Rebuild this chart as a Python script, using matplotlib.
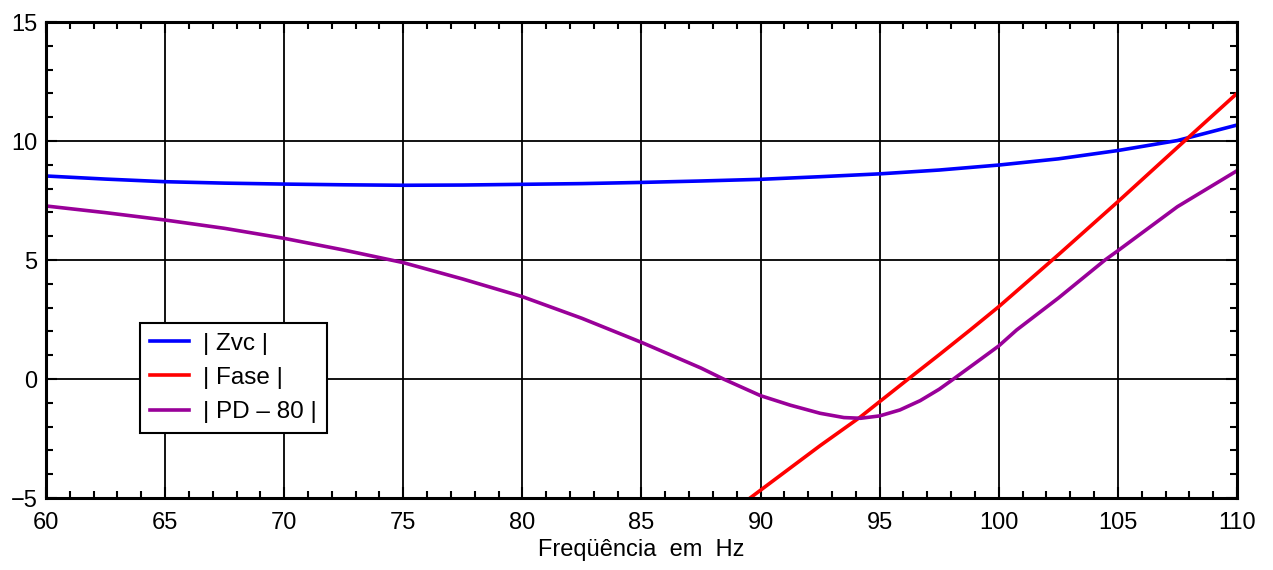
import matplotlib
matplotlib.use("Agg")
import matplotlib.pyplot as plt
from matplotlib.ticker import MultipleLocator

plt.rcParams["font.family"] = ["Liberation Sans", "DejaVu Sans"]

# |Zvc| curve
zvc_freq = [60, 62.5, 65, 67.5, 70, 72.5, 75, 77.5, 80, 82.5, 85, 87.5, 90,
            92.5, 95, 97.5, 100, 102.5, 105, 107.5, 110]
zvc_vals = [8.53, 8.40, 8.29, 8.23, 8.19, 8.16, 8.14, 8.15, 8.18, 8.21, 8.26,
            8.32, 8.39, 8.50, 8.62, 8.78, 8.99, 9.25, 9.60, 10.02, 10.67]

# |Fase| curve
fase_freq = [89.56, 90, 92.5, 94.17, 95, 96.2, 97.5, 98.8, 100, 102.5, 105,
             107.5, 110]
fase_vals = [-5.0, -4.67, -2.8, -1.61, -0.95, 0.0, 1.02, 2.06, 3.04, 5.22,
             7.45, 9.73, 12.0]

# |PD - 80| curve
pd_freq = [60, 62.5, 65, 67.5, 70, 72.5, 75, 77.5, 80, 82.5, 85, 87.5, 88.44,
           90, 91.25, 92.5, 93.5, 94.2, 95, 95.85, 96.7, 97.5, 98.1, 99.1,
           100, 100.75, 102.5, 104.46, 105, 107.5, 110]
pd_vals = [7.27, 6.99, 6.68, 6.33, 5.91, 5.42, 4.89, 4.20, 3.46, 2.55, 1.54,
           0.46, 0.0, -0.70, -1.10, -1.44, -1.62, -1.65, -1.55, -1.30, -0.91,
           -0.43, 0.0, 0.73, 1.39, 2.06, 3.40, 5.0, 5.39, 7.24, 8.75]

fig = plt.figure(figsize=(12.73, 5.70), dpi=100)
ax = fig.add_axes([0.0361, 0.1263, 0.9356, 0.8351])

ax.plot(zvc_freq, zvc_vals, color="#0000ff", lw=2.6, label="| Zvc |")
ax.plot(fase_freq, fase_vals, color="#ff0000", lw=2.6, label="| Fase |")
ax.plot(pd_freq, pd_vals, color="#990099", lw=2.6, label="| PD \u2013 80 |")

ax.set_xlim(60, 110)
ax.set_ylim(-5, 15)
ax.xaxis.set_major_locator(MultipleLocator(5))
ax.xaxis.set_minor_locator(MultipleLocator(1))
ax.yaxis.set_minor_locator(MultipleLocator(1))
ax.set_yticks([-5, 0, 5, 10, 15])
ax.set_yticklabels(["\u22125", "0", "5", "10", "15"])

ax.grid(True, which="major", color="black", lw=1.3)
ax.tick_params(which="both", direction="in", top=True, right=True,
               labelsize=17, width=1.5)
ax.tick_params(axis="x", which="major", pad=10)
ax.tick_params(axis="y", which="major", pad=6)
ax.tick_params(which="major", length=8)
ax.tick_params(which="minor", length=5)
for sp in ax.spines.values():
    sp.set_linewidth(2.2)

ax.set_xlabel("Freqüência  em  Hz", fontsize=17, labelpad=4)

leg = ax.legend(loc="lower left", bbox_to_anchor=(0.079, 0.137), fontsize=17.5,
                fancybox=False, edgecolor="black", framealpha=1,
                handlelength=1.6, handletextpad=0.6, borderpad=0.4,
                labelspacing=0.5, borderaxespad=0)
leg.get_frame().set_linewidth(1.5)

fig.savefig("out.png", dpi=100)
